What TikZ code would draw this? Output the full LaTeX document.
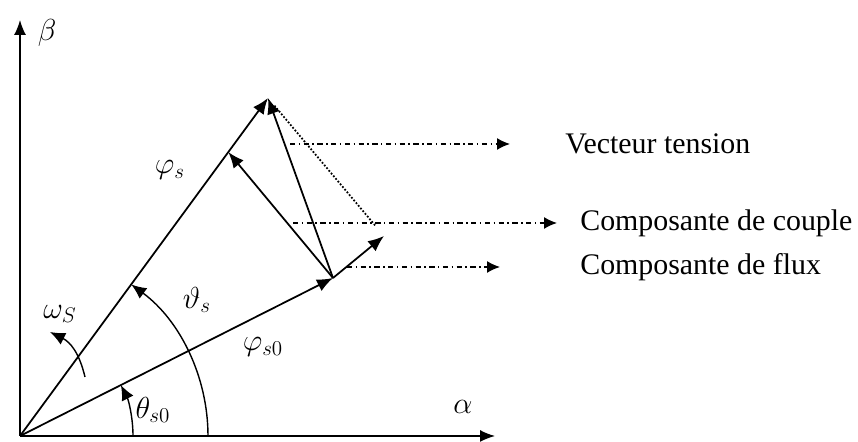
\documentclass[tikz,border=0pt]{standalone}
\usepackage{amsmath,amssymb}
\usepackage{fontspec}
\setmainfont{Liberation Serif}
\usetikzlibrary{arrows.meta, positioning, calc}

\begin{document}
\begin{tikzpicture}[
    font=\fontsize{17}{20}\selectfont,
    axis/.style={
        -{Latex[length=3mm,width=2.4mm]}, line width=0.8pt
    },
    vec/.style={
        -{Latex[length=3.2mm,width=2.6mm]}, line width=1pt
    },
    angarc/.style={
        -{Latex[length=3mm,width=2.6mm]}, line width=0.8pt
    },
    pointer/.style={
        -{Latex[length=2.6mm,width=2.4mm]}, line width=0.8pt, dash dot
    },
    legend/.style={anchor=west, inner sep=0pt},
    lbl/.style={inner sep=1pt},
]

\useasboundingbox (0,0) rectangle (17.16,8.84);

% ============================================================
% Axes
% ============================================================
\coordinate (O) at (0.4,0.12);
\coordinate (A) at (9.9,0.12);
\coordinate (B) at (0.4,8.44);

\draw[axis] (O) -- (A);
\draw[axis] (O) -- (B);
\node[lbl] (alpha) at (9.26,0.7) {$\alpha$};
\node[lbl] (beta) at (0.94,8.18) {$\beta$};

% ============================================================
% Flux and voltage vectors
% ============================================================
\coordinate (S) at (5.36,6.88);
\coordinate (F) at (6.66,3.28);
\coordinate (C) at (7.68,4.12);
\coordinate (T) at ($(O)!0.84!(S)$);

\draw[vec] (O) -- (S);
\draw[vec] (O) -- (F);
\draw[vec] (F) -- (S);
\draw[vec] (F) -- (T);
\draw[vec] (F) -- (C);
\draw[densely dotted, line width=1pt, shorten <=0.2cm, shorten >=0.25cm]
    (S) -- (C);

\node[lbl] (phis) at (3.4,5.44) {$\varphi_s$};
\node[lbl] (phis0) at (5.26,1.9) {$\varphi_{s0}$};

% Angles
\draw[angarc] ($(O)+(3.76,0)$) arc[start angle=0, end angle=53.7, radius=3.76];
\draw[angarc] ($(O)+(2.26,0)$) arc[start angle=0, end angle=26.8, radius=2.26];
\node[lbl] (thetas) at (3.94,2.84) {$\vartheta_s$};
\node[lbl] (thetas0) at (3.06,0.64) {$\theta_{s0}$};

% Rotation
\coordinate (w1) at (1.7,1.3);
\coordinate (w2) at (1.0,2.2);
\draw[angarc] (w1) .. controls (1.58,1.8) and (1.4,2.0) .. (w2);
\node[lbl] (omegas) at (1.2,2.56) {$\omega_S$};

% ============================================================
% Legend
% ============================================================
\node[legend] (vt) at (11.3,5.96) {Vecteur tension};
\node[legend] (cc) at (11.6,4.38) {Composante de couple};
\node[legend] (cf) at (11.6,3.5) {Composante de flux};

\coordinate (vtStart) at (5.8,5.96);
\coordinate (ccStart) at (5.86,4.38);
\coordinate (cfStart) at (6.94,3.5);

\draw[pointer] (vtStart) -- ([xshift=-1.1cm]vt.west);
\draw[pointer] (ccStart) -- ([xshift=-0.46cm]cc.west);
\draw[pointer] (cfStart) -- ([xshift=-1.6cm]cf.west);

\end{tikzpicture}
\end{document}
